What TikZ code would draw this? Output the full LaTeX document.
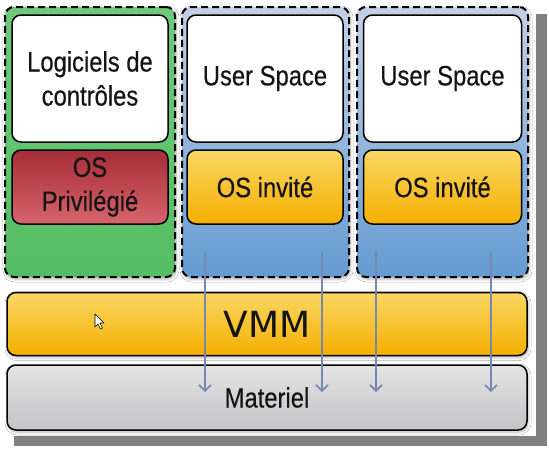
\documentclass[tikz,border=0pt]{standalone}
\usepackage{fontspec}
\setmainfont[FakeStretch=0.85,FakeBold=0.4]{Liberation Sans}
\newfontfamily\vmmfont{DejaVu Sans}
\usetikzlibrary{arrows.meta,shadows.blur}
\definecolor{shadowgray}{RGB}{128,128,128}
\definecolor{greenA}{RGB}{110,202,120}
\definecolor{greenB}{RGB}{85,190,100}
\definecolor{blueA}{RGB}{196,208,230}
\definecolor{blueB}{RGB}{100,155,210}
\definecolor{redA}{RGB}{165,45,55}
\definecolor{redB}{RGB}{215,100,110}
\definecolor{orA}{RGB}{250,215,100}
\definecolor{orB}{RGB}{245,175,0}
\definecolor{grA}{RGB}{228,228,228}
\definecolor{grB}{RGB}{195,195,198}
\definecolor{arrowblue}{RGB}{120,135,178}
\definecolor{txt}{RGB}{20,20,20}
\begin{document}
\begin{tikzpicture}[x=1pt,y=-1pt,
  softshadow/.style={blur shadow={shadow xshift=1pt, shadow yshift=-2pt, shadow blur steps=6, shadow blur radius=3pt, shadow opacity=30}},
  column/.style={draw=black, line width=2pt, dash pattern=on 7pt off 4pt, rounded corners=9pt, inner sep=0pt, softshadow},
  box/.style={draw=black, line width=1.5pt, rounded corners=9pt, inner sep=0pt, text=txt, align=center, font=\fontsize{28}{34}\selectfont},
  whitebox/.style={box, fill=white, minimum height=127pt},
  redbox/.style={box, top color=redA, bottom color=redB, minimum height=74pt},
  orbox/.style={box, top color=orA, bottom color=orB, minimum height=74pt},
  flow/.style={draw=arrowblue, line width=1.6pt, -{Straight Barb[length=6pt,width=12pt]}}
]
\useasboundingbox (0,0) rectangle (549,456);
\fill[white] (0,0) rectangle (549,456);
\fill[shadowgray] (14,14) rectangle (547,446);
\fill[white] (0,0) rectangle (536,436);

% columns
\node[column, top color=greenA, bottom color=greenB, minimum width=170pt, minimum height=270pt] (colA) at (90,142) {};
\node[column, top color=blueA, bottom color=blueB, minimum width=167pt, minimum height=270pt] (colB) at (265.5,142) {};
\node[column, top color=blueA, bottom color=blueB, minimum width=171pt, minimum height=270pt] (colC) at (442.5,142) {};

% upper boxes
\node[whitebox, minimum width=156pt] (logi) at (90,78.5) {Logiciels de\\contrôles};
\node[whitebox, minimum width=156pt] (us1) at (265,78.5) {User Space};
\node[whitebox, minimum width=158pt] (us2) at (442.5,78.5) {User Space};

\node[redbox, minimum width=156pt] (osp) at (90,187) {OS\\Privilégié};
\node[orbox, minimum width=156pt] (os1) at (265,187) {OS invité};
\node[orbox, minimum width=158pt] (os2) at (442.5,187) {OS invité};

% bars
\node[box, softshadow, top color=orA, bottom color=orB, minimum width=520pt, minimum height=63pt, font=\vmmfont\fontsize{36}{40}\selectfont] (vmm) at (267,324) {VMM};
\node[box, softshadow, top color=grA, bottom color=grB, minimum width=520pt, minimum height=65pt] (mat) at (267,397.5) {Materiel};

% arrows
\coordinate (s1) at (205,252); \coordinate (e1) at (205,392);
\coordinate (s2) at (322,252); \coordinate (e2) at (322,392);
\coordinate (s3) at (376,252); \coordinate (e3) at (376,392);
\coordinate (s4) at (491,252); \coordinate (e4) at (491,392);
\draw[flow] (s1) -- (e1);
\draw[flow] (s2) -- (e2);
\draw[flow] (s3) -- (e3);
\draw[flow] (s4) -- (e4);

% mouse pointer
\draw[fill=white, line width=0.6pt, line join=round] (95,314) -- (95,327) -- (98,324) -- (100.5,329) -- (102.5,328) -- (100,323) -- (104,323) -- cycle;
\end{tikzpicture}
\end{document}
